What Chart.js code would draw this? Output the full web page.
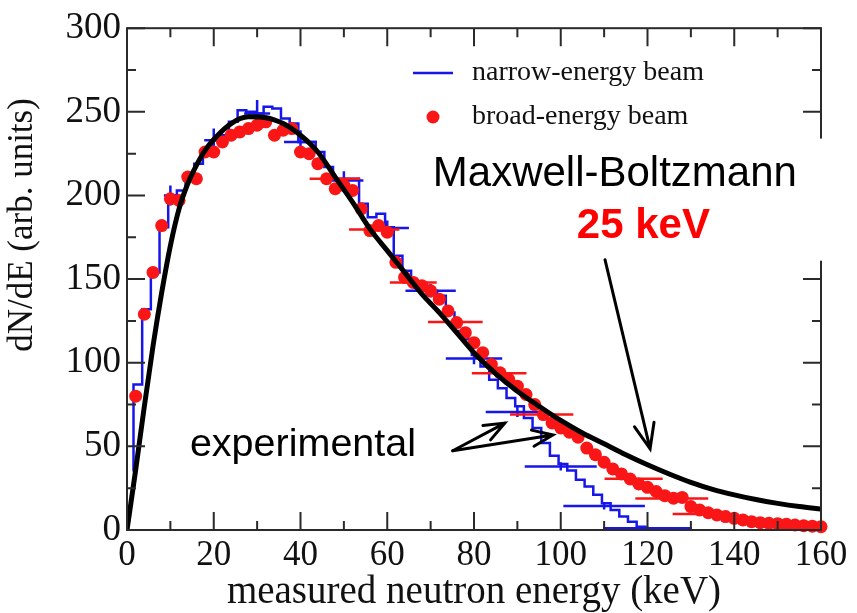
<!DOCTYPE html>
<html>
<head>
<meta charset="utf-8">
<script src="https://cdn.jsdelivr.net/npm/chart.js@4.4.1/dist/chart.umd.min.js"></script>
<style>
  body { margin: 0; background: #fff; }
</style>
</head>
<body>
<canvas id="myChart" width="857" height="613"></canvas>
<script>
// Maxwell-Boltzmann 25 keV curve
var mbEnergy = [0, 2, 4, 6, 8, 10, 12, 14, 16, 18, 20, 24, 28, 32, 36, 40, 44, 48, 52, 56, 60, 64, 68, 72, 76, 80, 85, 90, 95, 100, 105, 110, 115, 120, 125, 130, 135, 140, 145, 150, 155, 160];
var mbValue = [0, 36, 74, 110, 142, 170, 192, 207, 218, 227, 233.5, 243, 247, 246.5, 243, 236, 226, 211, 196, 180, 167, 154, 141, 130, 118, 106, 93.5, 83, 74, 65.5, 58, 51.5, 45, 39, 33.5, 28.5, 24.3, 21, 18.2, 15.9, 14, 12.5];

// broad-energy beam (red dots)
var broadEnergy = [2, 4, 6, 8, 10, 12, 14, 16, 18, 20, 22, 24, 26, 28, 30, 32, 34, 36, 38, 40,
  42, 44, 46, 48, 50, 52, 54, 56, 58, 60, 62, 64, 66, 68, 70, 72, 74, 76, 78, 80,
  82, 84, 86, 88, 90, 92, 94, 96, 98, 100, 102, 104, 106, 108, 110, 112, 114, 116, 118, 120,
  122, 124, 126, 128, 130, 132, 134, 136, 138, 140, 142, 144, 146, 148, 150, 152, 154, 156, 158, 160];
var broadValue = [80, 129, 154, 182, 198, 197, 211, 210, 226, 226, 232, 236, 238, 240, 242, 244, 236, 239, 240, 226,
  225, 219, 210, 204, 206, 203, 192, 179, 182, 178, 160, 151, 148, 146, 143, 138, 131, 124, 118, 112,
  106, 99, 94, 90, 86, 81, 75, 69, 64, 61, 58.5, 55.5, 49, 45, 40.5, 36.5, 33.5, 30.5, 27.5, 25.5,
  23, 20.5, 19, 19.5, 14, 12, 10.3, 9, 8, 7, 6, 5, 4.4, 4, 3.8, 3.5, 3, 2.6, 2.3, 2];
// horizontal energy bars on some red points: centre, value, half width
var broadBarX = [47.9, 57, 66, 75.7, 85.8, 95.6, 116.8, 125.6, 130];
var broadBarY = [210, 179.6, 148, 124.3, 93.7, 69.1, 30.6, 18.8, 9.5];
var broadBarW = [5.8, 5.8, 5.4, 6.3, 6.3, 7.3, 6.7, 8.4, 4.2];

// narrow-energy beam histogram (blue): left bin edges and counts
var narrowEdge = [1.5, 1.5, 3.5, 5.5, 7.5, 9.5, 11.5, 13.5, 15.5, 17.5, 19.5, 21.5, 23.5, 25.5, 27.5, 29.5, 31.5, 33.5, 35.5, 37.5,
  39.5, 41.5, 43.5, 45.5, 47.5, 49.5, 51.5, 53.5, 55.5, 57.5, 59.5, 61.5, 63.5, 65.5, 67.5, 69.5, 71.5, 73.5, 75.5, 77.5,
  79.5, 81.5, 83.5, 85.5, 87.5, 89.5, 91.5, 93.5, 95.5, 97.5, 99.5, 101.5, 103.5, 105.5, 107.5, 109.5, 111.5, 113.5, 115.5, 117.5,
  119.5, 121.5, 123.5, 125.5, 127.5, 129.5];
var narrowCount = [35, 87, 132, 154, 181, 200, 203, 212, 219, 228, 233, 236, 244, 251, 250, 249, 253, 252, 246, 243,
  232, 232, 226, 217, 210, 210, 210, 195, 187, 189, 181, 164, 155, 148, 146, 143, 140, 130, 119, 114,
  104.6, 97.7, 89.8, 84.8, 78.9, 74, 67, 61, 52, 44.4, 39.5, 35.5, 30, 26, 21, 16, 12, 8, 5, 2,
  0.5, 0, 0, 0, 0, 0];
// error crosses on the blue histogram: centre, value, half width, value error
var narrowBarX = [10, 20, 30, 40, 50, 60, 70, 80, 90, 100, 110, 120];
var narrowBarY = [200, 233, 249, 232, 209, 180.6, 143, 102.6, 70.5, 38, 14.3, 1];
var narrowBarW = [1.5, 2.2, 3, 3.8, 4.5, 5, 5.8, 6.5, 7.3, 8.3, 9.4, 10.2];
var narrowBarE = [6, 7, 8, 7, 5.5, 4.5, 4, 3.5, 3, 2.5, 2, 1];

var xTicks = [0, 20, 40, 60, 80, 100, 120, 140, 160];
var yTicks = [0, 50, 100, 150, 200, 250, 300];

var BLUE = "rgb(22, 22, 235)";
var RED = "rgb(250, 22, 22)";
var SERIF = '"Liberation Serif", "Times New Roman", serif';
var SANS = '"Liberation Sans", Arial, sans-serif';

function pts(xs, ys) {
  return xs.map(function (x, i) { return { x: x, y: ys[i] }; });
}

function hbars(xs, ys, ws) {
  var out = [];
  xs.forEach(function (x, i) {
    out.push({ x: x - ws[i], y: ys[i] }, { x: x + ws[i], y: ys[i] }, { x: x, y: null });
  });
  return out;
}

function crosses(xs, ys, ws, es) {
  var out = hbars(xs, ys, ws);
  xs.forEach(function (x, i) {
    out.push({ x: x, y: ys[i] - es[i] }, { x: x, y: ys[i] + es[i] }, { x: x, y: null });
  });
  return out;
}

function arrow(ctx, x1, y1, x2, y2, len, ang) {
  var a = Math.atan2(y2 - y1, x2 - x1);
  ctx.beginPath();
  ctx.moveTo(x1, y1);
  ctx.lineTo(x2, y2);
  ctx.moveTo(x2 - len * Math.cos(a - ang), y2 - len * Math.sin(a - ang));
  ctx.lineTo(x2, y2);
  ctx.lineTo(x2 - len * Math.cos(a + ang), y2 - len * Math.sin(a + ang));
  ctx.stroke();
}

var decor = {
  id: "decor",
  afterDraw: function (chart) {
    var ctx = chart.ctx;
    var a = chart.chartArea;
    var sx = chart.scales.x;
    var sy = chart.scales.y;
    var px = function (v) { return sx.getPixelForValue(v); };
    var py = function (v) { return sy.getPixelForValue(v); };
    ctx.save();

    // frame with inward ticks on all four sides
    ctx.strokeStyle = "#2a2a2a";
    ctx.lineWidth = 2;
    ctx.strokeRect(a.left, a.top, a.right - a.left, a.bottom - a.top);
    ctx.beginPath();
    sx.ticks.forEach(function (t) {
      var x = px(t.value);
      var l = t.value % 20 === 0 ? 18 : 9;
      ctx.moveTo(x, a.bottom); ctx.lineTo(x, a.bottom - l);
      ctx.moveTo(x, a.top); ctx.lineTo(x, a.top + l);
    });
    sy.ticks.forEach(function (t) {
      var y = py(t.value);
      var l = t.value % 50 === 0 ? 18 : 9;
      ctx.moveTo(a.left, y); ctx.lineTo(a.left + l, y);
      ctx.moveTo(a.right, y); ctx.lineTo(a.right - l, y);
    });
    ctx.stroke();

    // white box behind the Maxwell-Boltzmann label
    ctx.fillStyle = "#fff";
    ctx.fillRect(px(66), py(234), 857 - px(66), py(161) - py(234));

    // legend
    ctx.strokeStyle = BLUE;
    ctx.lineWidth = 2.5;
    ctx.beginPath();
    ctx.moveTo(413, 73); ctx.lineTo(453, 73);
    ctx.stroke();
    ctx.fillStyle = RED;
    ctx.beginPath();
    ctx.arc(433, 117, 6.5, 0, Math.PI * 2);
    ctx.fill();
    ctx.fillStyle = "#111";
    ctx.font = "28px " + SERIF;
    ctx.textBaseline = "alphabetic";
    ctx.textAlign = "left";
    ctx.fillText("narrow-energy beam", 472, 80);
    ctx.fillText("broad-energy beam", 472, 124);

    // annotations
    ctx.fillStyle = "#000";
    ctx.font = "42px " + SANS;
    ctx.fillText("Maxwell-Boltzmann", px(70.5), py(205.4));
    ctx.fillStyle = "#ff0000";
    ctx.font = "bold 42px " + SANS;
    ctx.fillText("25 keV", px(103.7), py(174.7));
    ctx.fillStyle = "#000";
    ctx.font = "39.5px " + SANS;
    ctx.fillText("experimental", px(14.5), py(44.4));

    ctx.strokeStyle = "#000";
    ctx.lineWidth = 3;
    ctx.lineCap = "round";
    arrow(ctx, px(110.2), py(161.6), px(120.6), py(48.5), 27, 0.38);
    arrow(ctx, px(75.1), py(47.4), px(87.1), py(63.9), 22, 0.38);
    arrow(ctx, px(75.1), py(47.4), px(98.2), py(56.8), 22, 0.38);

    // y axis title
    ctx.translate(23, 225);
    ctx.rotate(-Math.PI / 2);
    ctx.textAlign = "center";
    ctx.textBaseline = "middle";
    ctx.font = "35px " + SERIF;
    ctx.fillStyle = "#111";
    ctx.fillText("dN/dE (arb. units)", 0, 0);
    ctx.restore();
  }
};

var chart = document.getElementById("myChart").getContext("2d");
var myChart = new Chart(chart, {
  type: "line",
  data: {
    datasets: [
      {
        label: "Maxwell-Boltzmann 25 keV",
        data: pts(mbEnergy, mbValue),
        borderColor: "#000",
        borderWidth: 5,
        pointRadius: 0,
        cubicInterpolationMode: "monotone",
        order: 0,
      },
      {
        label: "broad-energy beam",
        data: pts(broadEnergy, broadValue),
        showLine: false,
        pointRadius: 6.5,
        pointBorderWidth: 0,
        pointBackgroundColor: RED,
        clip: false,
        order: 1,
      },
      {
        label: "broad bars",
        data: hbars(broadBarX, broadBarY, broadBarW),
        borderColor: RED,
        borderWidth: 2.5,
        pointRadius: 0,
        spanGaps: false,
        order: 2,
      },
      {
        label: "narrow bars",
        data: crosses(narrowBarX, narrowBarY, narrowBarW, narrowBarE),
        borderColor: BLUE,
        borderWidth: 2.5,
        pointRadius: 0,
        spanGaps: false,
        order: 3,
      },
      {
        label: "narrow-energy beam",
        data: pts(narrowEdge, narrowCount),
        borderColor: BLUE,
        borderWidth: 2.5,
        pointRadius: 0,
        stepped: "before",
        order: 4,
      },
    ],
  },
  options: {
    responsive: false,
    animation: false,
    devicePixelRatio: 1,
    layout: { padding: { top: 23, right: 36, left: 0, bottom: 0 } },
    plugins: { legend: { display: false }, tooltip: { enabled: false } },
    scales: {
      x: {
        type: "linear",
        min: 0,
        max: 160,
        grid: { display: false, drawTicks: false },
        border: { display: false },
        ticks: {
          stepSize: 10,
          autoSkip: false,
          maxRotation: 0,
          padding: 5,
          color: "#111",
          font: { family: SERIF, size: 35 },
          callback: function (v) { return xTicks.indexOf(v) >= 0 ? v : ""; },
        },
        title: {
          display: true,
          text: "measured neutron energy (keV)",
          color: "#111",
          font: { family: SERIF, size: 39, lineHeight: 1 },
          padding: { top: 0, bottom: 1 },
        },
        afterFit: function (s) { s.height = 83; },
      },
      y: {
        type: "linear",
        min: 0,
        max: 300,
        grid: { display: false, drawTicks: false },
        border: { display: false },
        ticks: {
          stepSize: 25,
          autoSkip: false,
          padding: 6,
          color: "#111",
          font: { family: SERIF, size: 37 },
          callback: function (v) { return yTicks.indexOf(v) >= 0 ? v : ""; },
        },
        afterFit: function (s) { s.width = 127; },
      },
    },
  },
  plugins: [decor],
});
</script>
</body>
</html>
